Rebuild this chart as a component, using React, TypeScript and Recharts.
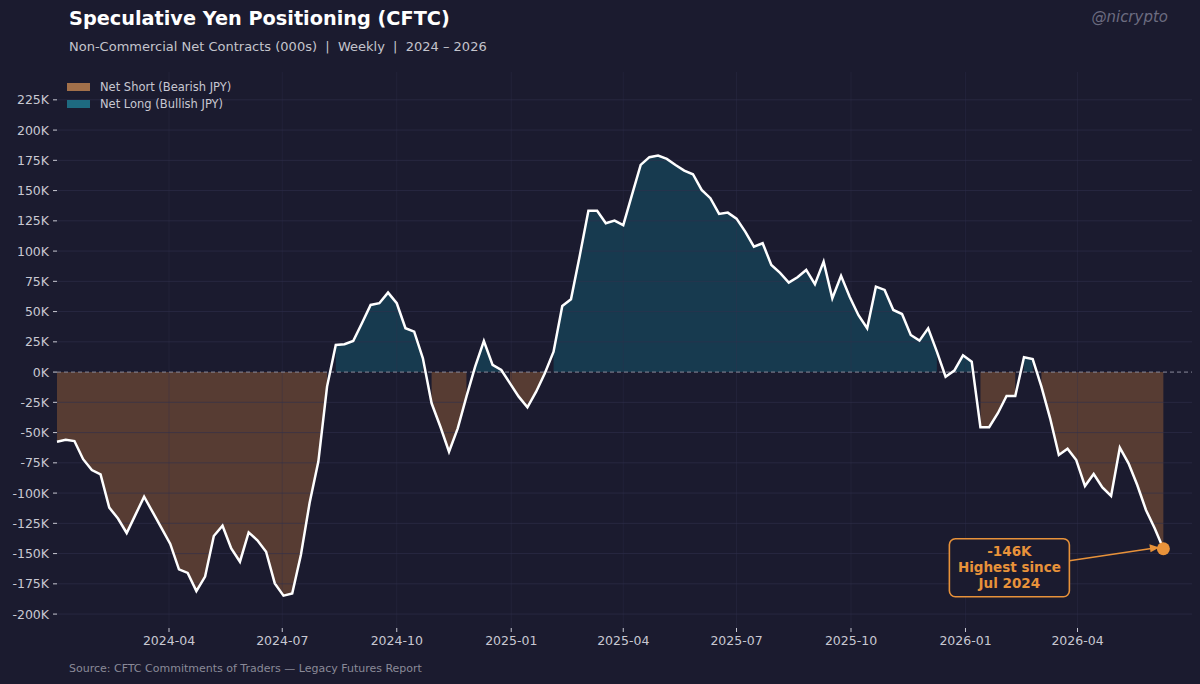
import React from 'react';
import {
  ComposedChart, Area, Line, XAxis, YAxis, ReferenceLine, ReferenceDot,
} from 'recharts';

// weekly net non-commercial JPY contracts (000s), first report 2024-01-02
const START = Date.UTC(2024, 0, 2);
const netContracts = [
  -57.5, -56, -57, -72, -81, -84.5, -112, -121, -133, -118,
  -103, -116, -129, -142, -163, -166, -181, -169, -135.5, -127,
  -145.7, -156.7, -132.5, -139, -148.5, -174.6, -184.8, -183, -151, -108,
  -74, -12, 22.4, 23, 25.7, 40.3, 55.5, 56.9, 65.7, 56.9,
  36.2, 33.4, 11.4, -25.8, -45, -65.8, -46.5, -20.3, 4.5, 25.7,
  5.9, 1.7, -9.3, -20.3, -29.1, -16.2, -1, 16.9, 54.6, 60.2,
  96, 133.4, 133.4, 123, 125.2, 121.4, 146.4, 171.2, 177.6, 178.9,
  176.2, 171.2, 166.5, 163.5, 150.5, 143.7, 130.7, 131.8, 126.8, 116.1,
  103.7, 106.5, 88.5, 82, 73.9, 78.4, 84.4, 72.6, 91.3, 61,
  79.5, 62, 47, 36.2, 70.6, 67.9, 51.3, 48, 30.7, 26,
  36.2, 16.9, -3.8, 1.2, 13.9, 8.6, -45.6, -45.6, -34, -19.8,
  -19.8, 12.2, 10.8, -12, -38.2, -68.5, -63.3, -72.7, -94.2, -84.2,
  -95.3, -102.4, -62.5, -75.4, -93.3, -114, -129.1, -146,
];

const yTicks = [-200, -175, -150, -125, -100, -75, -50, -25, 0, 25, 50, 75, 100, 125, 150, 175, 200, 225];
const xTickMonths = ['2024-04', '2024-07', '2024-10', '2025-01', '2025-04', '2025-07', '2025-10', '2026-01', '2026-04'];

const DAY = 86400000;
const toDay = (ym: string) => {
  const [y, m] = ym.split('-').map(Number);
  return (Date.UTC(y, m - 1, 1) - START) / DAY;
};
const xTicks = xTickMonths.map(toDay);
const fmtMonth = (d: number) => {
  const dt = new Date(START + d * DAY);
  return `${dt.getUTCFullYear()}-${String(dt.getUTCMonth() + 1).padStart(2, '0')}`;
};

const data = netContracts.map((v, i) => ({
  t: i * 7,
  v,
  pos: v >= 0 ? v : null,
  neg: v < 0 ? v : null,
}));
const last = data[data.length - 1];

const BG = '#1b1b2f';
const TEAL_FILL = '#173a4f';
const BROWN_FILL = '#573c33';
const TEAL_KEY = '#1e6a80';
const BROWN_KEY = '#a2704a';
const ORANGE = '#e8923a';
const GRID = '#30304c';
const TXT = '#c8c8d2';
const FONT = '"DejaVu Sans", sans-serif';

const EndMarker = (props: any) => {
  const { cx, cy } = props;
  const bx = cx - 214;
  const by = cy - 10;
  const mid = cx - 154;
  return (
    <g>
      <line x1={cx - 94} y1={cy + 12} x2={cx - 12} y2={cy - 0.2} stroke={ORANGE} strokeWidth={1.6} />
      <path d={`M${cx - 4},${cy - 1.3} L${cx - 14},${cy - 4.6} L${cx - 12.8},${cy + 3.4} Z`} fill={ORANGE} />
      <rect x={bx} y={by} width={120} height={58} rx={6} fill={BG} stroke={ORANGE} strokeWidth={1.6} />
      <text x={mid} textAnchor="middle" fill={ORANGE} fontFamily={FONT} fontWeight="bold" fontSize={13.5}>
        <tspan x={mid} y={cy + 7}>-146K</tspan>
        <tspan x={mid} y={cy + 23}>Highest since</tspan>
        <tspan x={mid} y={cy + 39}>Jul 2024</tspan>
      </text>
      <circle cx={cx} cy={cy} r={6.5} fill={ORANGE} />
    </g>
  );
};

export default function App() {
  return (
    <div style={{ position: 'absolute', left: 0, top: 0, width: 1200, height: 684, background: BG, fontFamily: FONT }}>
      <ComposedChart
        width={1200}
        height={684}
        data={data}
        margin={{ top: 72, right: 8, bottom: 26, left: 0 }}
      >
        <XAxis
          dataKey="t"
          type="number"
          domain={[0, 912]}
          ticks={xTicks}
          tickFormatter={fmtMonth}
          axisLine={false}
          tickLine={{ stroke: TXT }}
          tickSize={4}
          tickMargin={4}
          height={30}
          tick={{ fill: TXT, fontSize: 12.5, fontFamily: FONT }}
          interval={0}
        />
        <YAxis
          type="number"
          domain={[-211.5, 248]}
          ticks={yTicks}
          tickFormatter={(v: number) => `${v}K`}
          axisLine={false}
          tickLine={{ stroke: TXT }}
          tickSize={4}
          tickMargin={4}
          width={57}
          tick={{ fill: TXT, fontSize: 12.5, fontFamily: FONT }}
          interval={0}
        />
        <Area
          dataKey="neg"
          type="linear"
          baseValue={0}
          stroke="none"
          fill={BROWN_FILL}
          fillOpacity={1}
          connectNulls={false}
          dot={false}
          activeDot={false}
          isAnimationActive={false}
        />
        <Area
          dataKey="pos"
          type="linear"
          baseValue={0}
          stroke="none"
          fill={TEAL_FILL}
          fillOpacity={1}
          connectNulls={false}
          dot={false}
          activeDot={false}
          isAnimationActive={false}
        />
        {xTicks.map((t) => (
          <ReferenceLine key={`vx${t}`} x={t} stroke={GRID} strokeOpacity={0.35} strokeWidth={1} />
        ))}
        {yTicks.filter((v) => v !== 0).map((v) => (
          <ReferenceLine key={`hy${v}`} y={v} stroke={GRID} strokeOpacity={0.6} strokeWidth={1} />
        ))}
        <ReferenceLine y={0} stroke="#8a8a9c" strokeDasharray="4 3" strokeWidth={1} />
        <Line
          dataKey="v"
          type="linear"
          stroke="#ffffff"
          strokeWidth={2.5}
          dot={false}
          activeDot={false}
          isAnimationActive={false}
        />
        <ReferenceDot x={last.t} y={last.v} r={6.5} shape={EndMarker} />
      </ComposedChart>
      <svg width={1200} height={684} style={{ position: 'absolute', left: 0, top: 0, pointerEvents: 'none' }}>
        <text x={69} y={25} fill="#ffffff" fontSize={19.3} fontWeight="bold" fontFamily={FONT}>
          Speculative Yen Positioning (CFTC)
        </text>
        <text x={69} y={51} fill="#c4c4cc" fontSize={13} fontFamily={FONT} style={{ whiteSpace: 'pre' }}>
          {'Non-Commercial Net Contracts (000s)  |  Weekly  |  2024 – 2026'}
        </text>
        <text x={1168} y={22} textAnchor="end" fill="#6c6c80" fontSize={15} fontStyle="italic" fontFamily={FONT}>
          @nicrypto
        </text>
        <rect x={67} y={83} width={23} height={8} fill={BROWN_KEY} />
        <text x={100} y={91} fill={TXT} fontSize={11.5} fontFamily={FONT}>Net Short (Bearish JPY)</text>
        <rect x={67} y={100} width={23} height={8} fill={TEAL_KEY} />
        <text x={100} y={108} fill={TXT} fontSize={11.5} fontFamily={FONT}>Net Long (Bullish JPY)</text>
        <text x={69} y={672} fill="#8a8a98" fontSize={11} fontFamily={FONT}>
          Source: CFTC Commitments of Traders — Legacy Futures Report
        </text>
      </svg>
    </div>
  );
}
